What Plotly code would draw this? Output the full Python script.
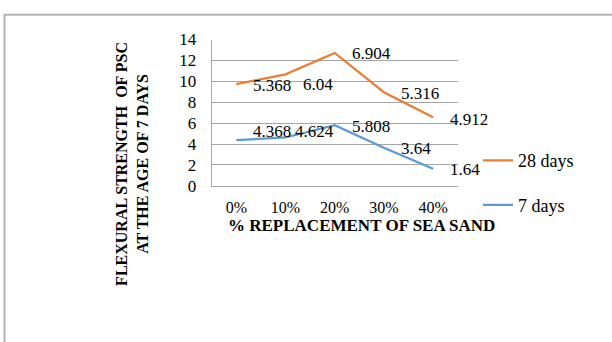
import plotly.graph_objects as go

# Flexural strength of PSC vs % replacement of sea sand
categories = ["0%", "10%", "20%", "30%", "40%"]
days7 = [4.368, 4.624, 5.808, 3.64, 1.64]
days28 = [5.368, 6.04, 6.904, 5.316, 4.912]
y_ticks = [0, 2, 4, 6, 8, 10, 12, 14]

W, H = 612, 342
SERIF = "Liberation Serif"
ORANGE = "#ED7D31"
BLUE = "#5B9BD5"
GRID = "#a6a6a6"

fig = go.Figure()

# stacked line chart: the 28-day series sits on top of the 7-day series
fig.add_trace(go.Scatter(
    x=categories, y=days7, name="7 days", mode="lines",
    stackgroup="s", fill="none",
    line=dict(color=BLUE, width=2.25),
    legendgroup="g7", legendrank=2,
))
fig.add_trace(go.Scatter(
    x=categories, y=days28, name="28 days", mode="lines",
    stackgroup="s", fill="none",
    line=dict(color=ORANGE, width=2.25),
    legendgroup="g28", legendrank=1,
))

# value labels to the right of each point
stacked28 = [a + b for a, b in zip(days7, days28)]
shift7 = [(15, 8.5), (7, 5.7), (15, -1.8), (15, -1), (15, -0.5)]
shift28 = [(15, -1), (15, -10), (15, -0.7), (15, -1.7), (15, -1.7)]
label_font = dict(family=SERIF, size=17, color="#000")
annotations = []
for cat, yv, val, (dx, dy) in zip(categories, days7, days7, shift7):
    annotations.append(dict(x=cat, y=yv, xref="x", yref="y", text=f"{val:g}",
                            showarrow=False, xanchor="left", yanchor="middle",
                            xshift=dx, yshift=dy, font=label_font))
for cat, yv, val, (dx, dy) in zip(categories, stacked28, days28, shift28):
    annotations.append(dict(x=cat, y=yv, xref="x", yref="y", text=f"{val:g}",
                            showarrow=False, xanchor="left", yanchor="middle",
                            xshift=dx, yshift=dy, font=label_font))

# axis titles
annotations.append(dict(
    x=361 / W, y=1 - 229 / H, xref="paper", yref="paper",
    text="% REPLACEMENT OF SEA SAND", showarrow=False,
    xanchor="center", yanchor="middle",
    font=dict(family=SERIF, size=17, color="#000", weight="bold")))
annotations.append(dict(
    x=132 / W, y=1 - 164 / H, xref="paper", yref="paper",
    text="FLEXURAL STRENGTH  OF PSC<br>AT THE AGE OF 7 DAYS", showarrow=False,
    textangle=-90, xanchor="center", yanchor="middle",
    font=dict(family=SERIF, size=16, color="#000", weight="bold")))

fig.update_layout(
    width=W, height=H,
    margin=dict(l=0, r=0, t=0, b=0),
    paper_bgcolor="white", plot_bgcolor="white",
    showlegend=True,
    legend=dict(
        x=478 / W, y=1 - 141 / H, xanchor="left", yanchor="top",
        font=dict(family=SERIF, size=18, color="#000"),
        tracegroupgap=18, bgcolor="rgba(0,0,0,0)",
        itemwidth=30,
    ),
    annotations=annotations,
    shapes=[dict(type="rect", xref="paper", yref="paper",
                 x0=4.5 / W, x1=1.05, y0=-0.1, y1=1 - 6 / H,
                 line=dict(color="#b4b4b4", width=2))],
    xaxis=dict(
        domain=[211.7 / W, 457.7 / W],
        type="category", categoryorder="array", categoryarray=categories,
        range=[-0.5, 4.5],
        showgrid=False, showline=True, linecolor=GRID, linewidth=1,
        ticks="", ticklabelstandoff=7,
        tickfont=dict(family=SERIF, size=16, color="#000"),
        fixedrange=True,
    ),
    yaxis=dict(
        domain=[1 - 187.2 / H, 1 - 32.3 / H],
        range=[0, 14], tickvals=y_ticks,
        showgrid=True, gridcolor=GRID, gridwidth=1,
        showline=True, linecolor=GRID, linewidth=1,
        zeroline=False,
        ticks="", ticklabelstandoff=11,
        tickfont=dict(family=SERIF, size=17, color="#000"),
        fixedrange=True,
    ),
)

fig.write_html("out.html")
